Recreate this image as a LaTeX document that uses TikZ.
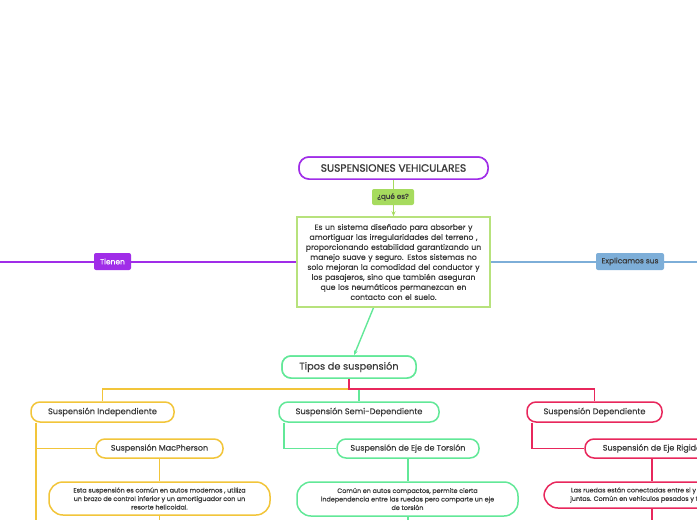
\documentclass[tikz,border=0pt]{standalone}
\usepackage{fontspec}
\setmainfont{Poppins}[FakeBold=0.4]
\newfontfamily\titlefont{Poppins}[FakeBold=1.2]
\usetikzlibrary{arrows.meta,calc}
\definecolor{cPurple}{HTML}{A02DE8}
\definecolor{cLime}{HTML}{A6DB5E}
\definecolor{cLimeB}{HTML}{B7E27C}
\definecolor{cBlue}{HTML}{7DAED8}
\definecolor{cGreen}{HTML}{62E898}
\definecolor{cYellow}{HTML}{F2C53A}
\definecolor{cRed}{HTML}{E8275C}
\definecolor{cText}{HTML}{3A3A3A}
\tikzset{
  base/.style={draw, line width=1.5pt, fill=white, text=cText, align=center, inner sep=1pt},
  titlebox/.style={base, draw=cPurple, rounded corners=10pt, font=\titlefont\fontsize{10.6}{12}\selectfont},
  defbox/.style={base, draw=cLimeB, font=\fontsize{7.7}{10}\selectfont},
  catbox/.style={base, rounded corners=9pt, font=\fontsize{8.0}{9}\selectfont},
  descbox/.style={base, rounded corners=14pt, font=\fontsize{6.4}{8.5}\selectfont},
  tag/.style={rounded corners=2pt, inner sep=1pt, font=\fontsize{7.5}{8}\selectfont},
  conn/.style={line width=1.4pt},
  arr/.style={conn, -{Stealth[length=5pt,width=4pt]}},
}
\begin{document}
\begin{tikzpicture}[x=1pt,y=-1pt]
\useasboundingbox (0,0) rectangle (697,520);
\clip (0,0) rectangle (697,520);
\fill[white] (0,0) rectangle (697,520);

% main nodes
\node[titlebox, minimum width=189, minimum height=22] (title) at (393.5,168) {SUSPENSIONES VEHICULARES};
\node[defbox, minimum width=193, minimum height=90, text width=186] (def) at (393.5,262)
 {Es un sistema diseñado para absorber y\\
  amortiguar las irregularidades del terreno ,\\
  proporcionando estabilidad garantizando un\\
  manejo suave y seguro. Estos sistemas no\\
  solo mejoran la comodidad del conductor y\\
  los pasajeros, sino que también aseguran\\
  que los neumáticos permanezcan en\\
  contacto con el suelo.};
\node[catbox, draw=cGreen, minimum width=134, minimum height=22, font=\fontsize{9.8}{11}\selectfont] (tipos) at (349,367) {Tipos de suspensión};

\node[catbox, draw=cYellow, minimum width=143, minimum height=20, font=\fontsize{8.2}{9}\selectfont] (ind) at (102.5,412) {Suspensión Independiente};
\node[catbox, draw=cYellow, minimum width=127, minimum height=19] (mac) at (159.5,448.5) {Suspensión MacPherson};
\node[descbox, draw=cYellow, minimum width=221, minimum height=33] (d1) at (159.5,498.5)
 {Esta suspensión es común en autos modernos , utiliza\\
  un brazo de control inferior y un amortiguador con un\\
  resorte helicoidal.};

\node[catbox, draw=cGreen, minimum width=160, minimum height=20, font=\fontsize{8.2}{9}\selectfont] (semi) at (359,412) {Suspensión Semi-Dependiente};
\node[catbox, draw=cGreen, minimum width=142, minimum height=19] (tors) at (408,448.5) {Suspensión de Eje de Torsión};
\node[descbox, draw=cGreen, minimum width=221, minimum height=34] (d2) at (407.5,499)
 {Común en autos compactos, permite cierta\\
  independencia entre las ruedas pero comparte un eje\\
  de torsión};

\node[catbox, draw=cRed, minimum width=135, minimum height=20, font=\fontsize{8.2}{9}\selectfont] (dep) at (594.5,412) {Suspensión Dependiente};
\node[catbox, draw=cRed, minimum width=134, minimum height=19] (rig) at (652,448.5) {Suspensión de Eje Rigido};
\node[descbox, draw=cRed, minimum width=216, minimum height=26] (d3) at (652,495)
 {Las ruedas están conectadas entre si y se mueven\\
  juntas. Común en vehículos pesados y todoterreno};

% coordinates
\coordinate (lft) at (0,262);
\coordinate (rgt) at (697,262);
\coordinate (hub) at (349,389);
\coordinate (hubg) at (359,389);

% connectors
\draw[arr, cLime] (title.south) -- (def.north);
\draw[conn, cPurple] (lft) -- (def.west);
\draw[conn, cBlue] (def.east) -- (rgt);
\draw[arr, cGreen] ([xshift=-20]def.south) -- ([xshift=5]tipos.north);

\draw[conn, cYellow] (hub) -| (ind.north);
\draw[conn, cGreen] (hubg) -- (semi.north);
\draw[conn, cRed] (tipos.south) -- (hub) -| (dep.north);

\coordinate (ib) at ([xshift=-66.5]ind.south);
\coordinate (iend) at (ib |- 0,520);
\draw[conn, cYellow] (ib) -- (iend);
\draw[conn, cYellow] (ib |- mac.west) -- (mac.west);
\draw[conn, cYellow] (mac.south) -- (d1.north);
\coordinate (d1end) at (d1.south |- 0,520);
\draw[conn, cYellow] (d1.south) -- (d1end);

\coordinate (sb) at ([xshift=-75]semi.south);
\draw[conn, cGreen] (sb) |- (tors.west);
\draw[conn, cGreen] (tors.south) -- (tors.south |- d2.north);
\coordinate (d2end) at (tors.south |- 0,520);
\draw[conn, cGreen] (tors.south |- d2.south) -- (d2end);

\coordinate (db) at ([xshift=-62.5]dep.south);
\draw[conn, cRed] (db) |- (rig.west);
\draw[conn, cRed] (rig.south) -- (rig.south |- d3.north);
\coordinate (d3end) at (rig.south |- 0,520);
\draw[conn, cRed] (rig.south |- d3.south) -- (d3end);

% redraw boxes that connectors touch, on top
\node[titlebox, minimum width=189, minimum height=22] at (title) {SUSPENSIONES VEHICULARES};
\node[defbox, minimum width=193, minimum height=90, text width=186] at (def)
 {Es un sistema diseñado para absorber y\\
  amortiguar las irregularidades del terreno ,\\
  proporcionando estabilidad garantizando un\\
  manejo suave y seguro. Estos sistemas no\\
  solo mejoran la comodidad del conductor y\\
  los pasajeros, sino que también aseguran\\
  que los neumáticos permanezcan en\\
  contacto con el suelo.};
\node[catbox, draw=cGreen, minimum width=134, minimum height=22, font=\fontsize{9.8}{11}\selectfont] at (tipos) {Tipos de suspensión};

% tags
\node[tag, fill=cLime, text=cText, minimum width=42, minimum height=16, font=\fontsize{7.2}{8}\selectfont] (que) at (393,197) {¿qué es?};
\node[tag, fill=cPurple, text=white, minimum width=37, minimum height=17] (tienen) at (112.5,261.5) {Tienen};
\node[tag, fill=cBlue, text=cText, minimum width=68, minimum height=17] (expl) at (630,261.5) {Explicamos sus};
\end{tikzpicture}
\end{document}
